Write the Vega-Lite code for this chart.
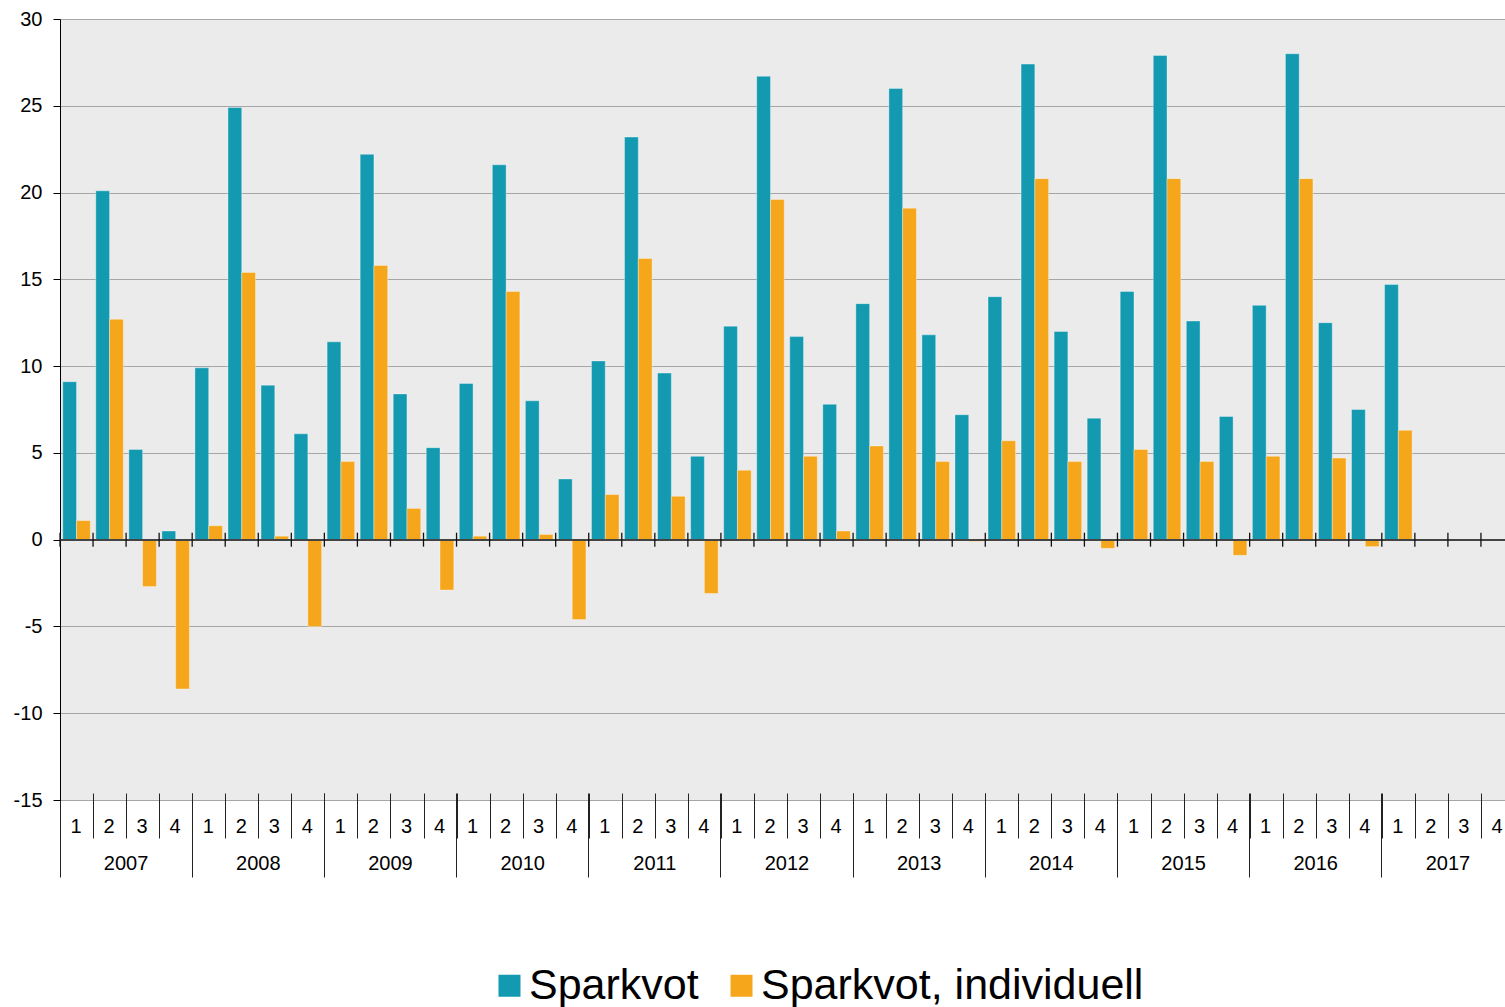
{
  "$schema": "https://vega.github.io/schema/vega-lite/v6.json",
  "width": 1454,
  "height": 781,
  "autosize": "none",
  "padding": {"left": 60, "top": 19, "right": 0, "bottom": 207},
  "background": "white",
  "config": {
    "font": "Liberation Sans",
    "view": {"fill": "#EBEBEB", "stroke": null},
    "axis": {"labelFont": "Liberation Sans", "labelColor": "#000", "titleColor": "#000"}
  },
  "data": {
    "values": [
      {"p": "2007-1", "Sparkvot": 9.1, "Sparkvot, individuell": 1.1},
      {"p": "2007-2", "Sparkvot": 20.1, "Sparkvot, individuell": 12.7},
      {"p": "2007-3", "Sparkvot": 5.2, "Sparkvot, individuell": -2.7},
      {"p": "2007-4", "Sparkvot": 0.5, "Sparkvot, individuell": -8.6},
      {"p": "2008-1", "Sparkvot": 9.9, "Sparkvot, individuell": 0.8},
      {"p": "2008-2", "Sparkvot": 24.9, "Sparkvot, individuell": 15.4},
      {"p": "2008-3", "Sparkvot": 8.9, "Sparkvot, individuell": 0.2},
      {"p": "2008-4", "Sparkvot": 6.1, "Sparkvot, individuell": -5.0},
      {"p": "2009-1", "Sparkvot": 11.4, "Sparkvot, individuell": 4.5},
      {"p": "2009-2", "Sparkvot": 22.2, "Sparkvot, individuell": 15.8},
      {"p": "2009-3", "Sparkvot": 8.4, "Sparkvot, individuell": 1.8},
      {"p": "2009-4", "Sparkvot": 5.3, "Sparkvot, individuell": -2.9},
      {"p": "2010-1", "Sparkvot": 9.0, "Sparkvot, individuell": 0.2},
      {"p": "2010-2", "Sparkvot": 21.6, "Sparkvot, individuell": 14.3},
      {"p": "2010-3", "Sparkvot": 8.0, "Sparkvot, individuell": 0.3},
      {"p": "2010-4", "Sparkvot": 3.5, "Sparkvot, individuell": -4.6},
      {"p": "2011-1", "Sparkvot": 10.3, "Sparkvot, individuell": 2.6},
      {"p": "2011-2", "Sparkvot": 23.2, "Sparkvot, individuell": 16.2},
      {"p": "2011-3", "Sparkvot": 9.6, "Sparkvot, individuell": 2.5},
      {"p": "2011-4", "Sparkvot": 4.8, "Sparkvot, individuell": -3.1},
      {"p": "2012-1", "Sparkvot": 12.3, "Sparkvot, individuell": 4.0},
      {"p": "2012-2", "Sparkvot": 26.7, "Sparkvot, individuell": 19.6},
      {"p": "2012-3", "Sparkvot": 11.7, "Sparkvot, individuell": 4.8},
      {"p": "2012-4", "Sparkvot": 7.8, "Sparkvot, individuell": 0.5},
      {"p": "2013-1", "Sparkvot": 13.6, "Sparkvot, individuell": 5.4},
      {"p": "2013-2", "Sparkvot": 26.0, "Sparkvot, individuell": 19.1},
      {"p": "2013-3", "Sparkvot": 11.8, "Sparkvot, individuell": 4.5},
      {"p": "2013-4", "Sparkvot": 7.2, "Sparkvot, individuell": -0.1},
      {"p": "2014-1", "Sparkvot": 14.0, "Sparkvot, individuell": 5.7},
      {"p": "2014-2", "Sparkvot": 27.4, "Sparkvot, individuell": 20.8},
      {"p": "2014-3", "Sparkvot": 12.0, "Sparkvot, individuell": 4.5},
      {"p": "2014-4", "Sparkvot": 7.0, "Sparkvot, individuell": -0.5},
      {"p": "2015-1", "Sparkvot": 14.3, "Sparkvot, individuell": 5.2},
      {"p": "2015-2", "Sparkvot": 27.9, "Sparkvot, individuell": 20.8},
      {"p": "2015-3", "Sparkvot": 12.6, "Sparkvot, individuell": 4.5},
      {"p": "2015-4", "Sparkvot": 7.1, "Sparkvot, individuell": -0.9},
      {"p": "2016-1", "Sparkvot": 13.5, "Sparkvot, individuell": 4.8},
      {"p": "2016-2", "Sparkvot": 28.0, "Sparkvot, individuell": 20.8},
      {"p": "2016-3", "Sparkvot": 12.5, "Sparkvot, individuell": 4.7},
      {"p": "2016-4", "Sparkvot": 7.5, "Sparkvot, individuell": -0.4},
      {"p": "2017-1", "Sparkvot": 14.7, "Sparkvot, individuell": 6.3},
      {"p": "2017-2"},
      {"p": "2017-3"},
      {"p": "2017-4"}
    ]
  },
  "resolve": {"axis": {"x": "independent"}},
  "layer": [
    {
      "transform": [{"fold": ["Sparkvot", "Sparkvot, individuell"], "as": ["serie", "varde"]}],
      "mark": {"type": "bar", "stroke": "white", "strokeOpacity": 0.35, "strokeWidth": 1},
      "encoding": {
        "x": {
          "field": "p", "type": "ordinal",
          "scale": {"paddingInner": 0, "paddingOuter": 0},
          "axis": {
            "orient": "bottom", "offset": -7, "tickBand": "extent", "tickSize": 45,
            "tickColor": "#222", "tickWidth": 1, "domain": false, "grid": false,
            "labelExpr": "split(datum.value, '-')[1]", "labelAngle": 0,
            "labelBaseline": "middle", "labelPadding": -12, "labelFontSize": 20,
            "labelOffset": -1,
            "title": null
          }
        },
        "xOffset": {
          "field": "serie", "type": "nominal",
          "scale": {"domain": ["Sparkvot", "Sparkvot, individuell"], "paddingOuter": 0.2, "paddingInner": 0}
        },
        "y": {
          "field": "varde", "type": "quantitative",
          "scale": {"domain": [-15, 30], "nice": false, "zero": false},
          "axis": {
            "values": [-15, -10, -5, 0, 5, 10, 15, 20, 25, 30],
            "labelExpr": "datum.value + ''",
            "grid": true, "gridColor": "#A6A6A6", "gridWidth": 1,
            "domainColor": "#000", "domainWidth": 1, "tickColor": "#000", "tickSize": 7,
            "labelFontSize": 20, "labelPadding": 11, "title": null
          }
        },
        "color": {
          "field": "serie", "type": "nominal",
          "scale": {"domain": ["Sparkvot", "Sparkvot, individuell"], "range": ["#139AB1", "#F5A61B"]},
          "legend": {
            "orient": "none", "legendX": 428, "legendY": 945, "direction": "horizontal",
            "title": null, "symbolType": "square", "symbolSize": 484, "symbolStrokeWidth": 0,
            "labelFontSize": 43, "labelColor": "#000", "columnPadding": 21, "labelOffset": -2,
            "labelLimit": 0
          }
        }
      }
    },
    {
      "mark": {"type": "rule", "color": "#444", "strokeWidth": 1.5},
      "encoding": {"y": {"datum": 0}}
    },
    {
      "mark": {"type": "tick", "orient": "vertical", "size": 14, "thickness": 1.3, "color": "#111", "opacity": 1},
      "encoding": {
        "x": {
          "field": "p", "type": "ordinal", "bandPosition": 0,
          "axis": {
            "orient": "bottom", "offset": -7,
            "values": ["2007-1", "2008-1", "2009-1", "2010-1", "2011-1", "2012-1", "2013-1", "2014-1", "2015-1", "2016-1", "2017-1"],
            "bandPosition": 0, "tickSize": 84, "tickColor": "#222", "tickWidth": 1,
            "domain": false, "grid": false,
            "labelExpr": "slice(datum.value, 0, 4)", "labelOffset": 49.57, "labelAngle": 0,
            "labelBaseline": "middle", "labelPadding": -14, "labelFontSize": 20,
            "title": null
          }
        },
        "y": {"datum": 0}
      }
    }
  ]
}
